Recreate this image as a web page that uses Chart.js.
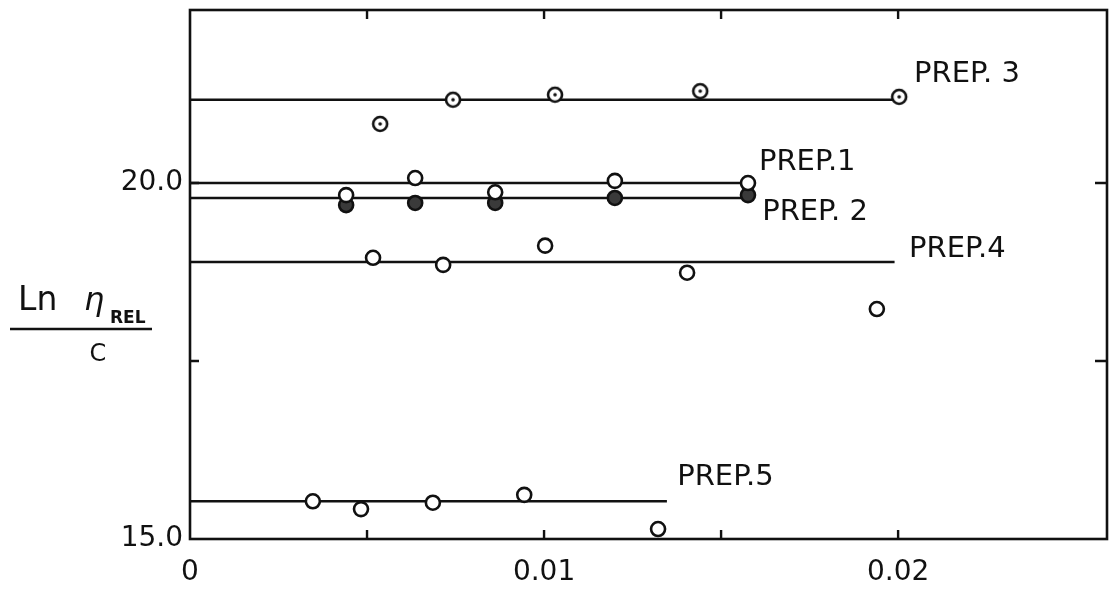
<!DOCTYPE html>
<html>
<head>
<meta charset="utf-8">
<script src="https://cdn.jsdelivr.net/npm/chart.js@4"></script>
<style>
  html, body { margin: 0; padding: 0; background: #fff; }
  #wrap { width: 1119px; height: 591px; }
</style>
</head>
<body>
<div id="wrap"><canvas id="viscChart"></canvas></div>
<script>
// concentration (x) and Ln(eta_rel)/c (y)
var prep1X = [0.00441, 0.00636, 0.00862, 0.0120, 0.01576];
var prep1Y = [19.83, 20.07, 19.87, 20.03, 20.00];
var prep2X = [0.00441, 0.00636, 0.00862, 0.0120, 0.01576];
var prep2Y = [19.69, 19.72, 19.72, 19.79, 19.83];
var prep3X = [0.00537, 0.00743, 0.01031, 0.01441, 0.02003];
var prep3Y = [20.83, 21.17, 21.24, 21.29, 21.21];
var prep4X = [0.00517, 0.00715, 0.01003, 0.01404, 0.0194];
var prep4Y = [18.95, 18.85, 19.12, 18.74, 18.23];
var prep5X = [0.00347, 0.00483, 0.00686, 0.00944, 0.01322];
var prep5Y = [15.53, 15.42, 15.51, 15.62, 15.14];

// horizontal fit lines: level and end concentration (PREP.1 .. PREP.5)
var fitLevels = [20.00, 19.79, 21.17, 18.89, 15.53];
var fitEnds = [0.01565, 0.01565, 0.0200, 0.0199, 0.01347];

// label text and where it sits (data coords, left / middle)
var prepNames = ["PREP.1", "PREP. 2", "PREP. 3", "PREP.4", "PREP.5"];
var labelX = [0.01607, 0.01616, 0.02045, 0.02031, 0.01376];
var labelY = [20.29, 19.58, 21.52, 19.06, 15.86];

var xTickValues = [0, 0.005, 0.01, 0.015, 0.02];
var xTickLabels = ["0", "", "0.01", "", "0.02"];
var yTickValues = [15, 17.5, 20];
var yTickLabels = ["15.0", "", "20.0"];

var INK = "#111";
var FONT = "'DejaVu Sans', sans-serif";

function pts(xs, ys) {
  return xs.map(function (x, i) { return { x: x, y: ys[i] }; });
}

// circle with a dot in the middle (PREP.3 marker)
var dotCircle = document.createElement("canvas");
dotCircle.width = 20; dotCircle.height = 20;
(function () {
  var c = dotCircle.getContext("2d");
  c.fillStyle = "#fff";
  c.strokeStyle = INK;
  c.lineWidth = 2.6;
  c.beginPath(); c.arc(10, 10, 7, 0, Math.PI * 2); c.fill(); c.stroke();
  c.fillStyle = INK;
  c.beginPath(); c.arc(10, 10, 1.8, 0, Math.PI * 2); c.fill();
})();

var datasets = [];
var markerSets = [
  { x: prep1X, y: prep1Y, fill: "#fff", style: "circle", order: 0 },
  { x: prep2X, y: prep2Y, fill: "#3a3a3a", style: "circle", order: 1 },
  { x: prep3X, y: prep3Y, fill: "#fff", style: dotCircle, order: 1 },
  { x: prep4X, y: prep4Y, fill: "#fff", style: "circle", order: 1 },
  { x: prep5X, y: prep5Y, fill: "#fff", style: "circle", order: 1 }
];
markerSets.forEach(function (m, i) {
  datasets.push({
    type: "scatter",
    label: prepNames[i],
    data: pts(m.x, m.y),
    pointStyle: m.style,
    pointRadius: 7,
    pointBorderWidth: 2.6,
    pointBackgroundColor: m.fill,
    pointBorderColor: INK,
    showLine: false,
    order: m.order
  });
});
fitLevels.forEach(function (lvl, i) {
  datasets.push({
    type: "line",
    label: prepNames[i] + " fit",
    data: [{ x: 0, y: lvl }, { x: fitEnds[i], y: lvl }],
    borderColor: INK,
    borderWidth: 2.5,
    pointRadius: 0,
    fill: false,
    order: 5
  });
});

// frame, inward tick marks, series labels and the fraction-style y title
var decorations = {
  id: "decorations",
  afterDraw: function (chart) {
    var ctx = chart.ctx, a = chart.chartArea;
    var xs = chart.scales.x, ys = chart.scales.y;
    ctx.save();
    ctx.strokeStyle = INK;
    ctx.lineWidth = 2.6;
    ctx.strokeRect(a.left, a.top, a.right - a.left, a.bottom - a.top);

    ctx.lineWidth = 2.4;
    xTickValues.forEach(function (v) {
      if (v === 0) return;
      var px = xs.getPixelForValue(v);
      ctx.beginPath();
      ctx.moveTo(px, a.bottom); ctx.lineTo(px, a.bottom - 9);
      ctx.moveTo(px, a.top); ctx.lineTo(px, a.top + 9);
      ctx.stroke();
    });
    yTickValues.forEach(function (v) {
      if (v === 15) return;
      var py = ys.getPixelForValue(v);
      ctx.beginPath();
      ctx.moveTo(a.left, py); ctx.lineTo(a.left + 9, py);
      ctx.moveTo(a.right, py); ctx.lineTo(a.right - 12, py);
      ctx.stroke();
    });

    ctx.fillStyle = INK;
    ctx.font = "29px " + FONT;
    ctx.textAlign = "left";
    ctx.textBaseline = "middle";
    prepNames.forEach(function (name, i) {
      ctx.fillText(name, xs.getPixelForValue(labelX[i]), ys.getPixelForValue(labelY[i]));
    });

    // y axis title: Ln eta_REL over c
    ctx.textBaseline = "alphabetic";
    ctx.font = "33px " + FONT;
    ctx.fillText("Ln", 18, 310);
    ctx.font = "italic 32px " + FONT;
    ctx.fillText("\u03b7", 84, 310);
    ctx.font = "bold 17px " + FONT;
    ctx.fillText("REL", 110, 323);
    ctx.lineWidth = 2.4;
    ctx.beginPath(); ctx.moveTo(10, 329); ctx.lineTo(152, 329); ctx.stroke();
    ctx.font = "24px " + FONT;
    ctx.textAlign = "center";
    ctx.fillText("C", 98, 361);
    ctx.restore();
  }
};

var ctx = document.getElementById("viscChart").getContext("2d");
var myChart = new Chart(ctx, {
  data: { datasets: datasets },
  options: {
    responsive: true,
    maintainAspectRatio: false,
    animation: false,
    events: [],
    layout: { padding: { top: 10, right: 12, left: 0, bottom: 0 } },
    plugins: { legend: { display: false }, tooltip: { enabled: false } },
    scales: {
      x: {
        type: "linear",
        min: 0,
        max: 0.0259,
        afterBuildTicks: function (s) { s.ticks = xTickValues.map(function (v) { return { value: v }; }); },
        afterFit: function (s) { s.height = 52; s.paddingLeft = 0; s.paddingRight = 0; },
        grid: { display: false, drawTicks: false },
        border: { display: false },
        ticks: {
          autoSkip: false,
          maxRotation: 0,
          padding: 17,
          color: INK,
          font: { family: FONT, size: 28 },
          callback: function (v, i) { return xTickLabels[i]; }
        }
      },
      y: {
        type: "linear",
        min: 15,
        max: 22.43,
        afterBuildTicks: function (s) { s.ticks = yTickValues.map(function (v) { return { value: v }; }); },
        afterFit: function (s) { s.width = 190; s.paddingTop = 0; s.paddingBottom = 0; },
        grid: { display: false, drawTicks: false },
        border: { display: false },
        ticks: {
          autoSkip: false,
          padding: 7,
          color: INK,
          font: { family: FONT, size: 28 },
          callback: function (v, i) { return yTickLabels[i]; }
        }
      }
    }
  },
  plugins: [decorations]
});
</script>
</body>
</html>
